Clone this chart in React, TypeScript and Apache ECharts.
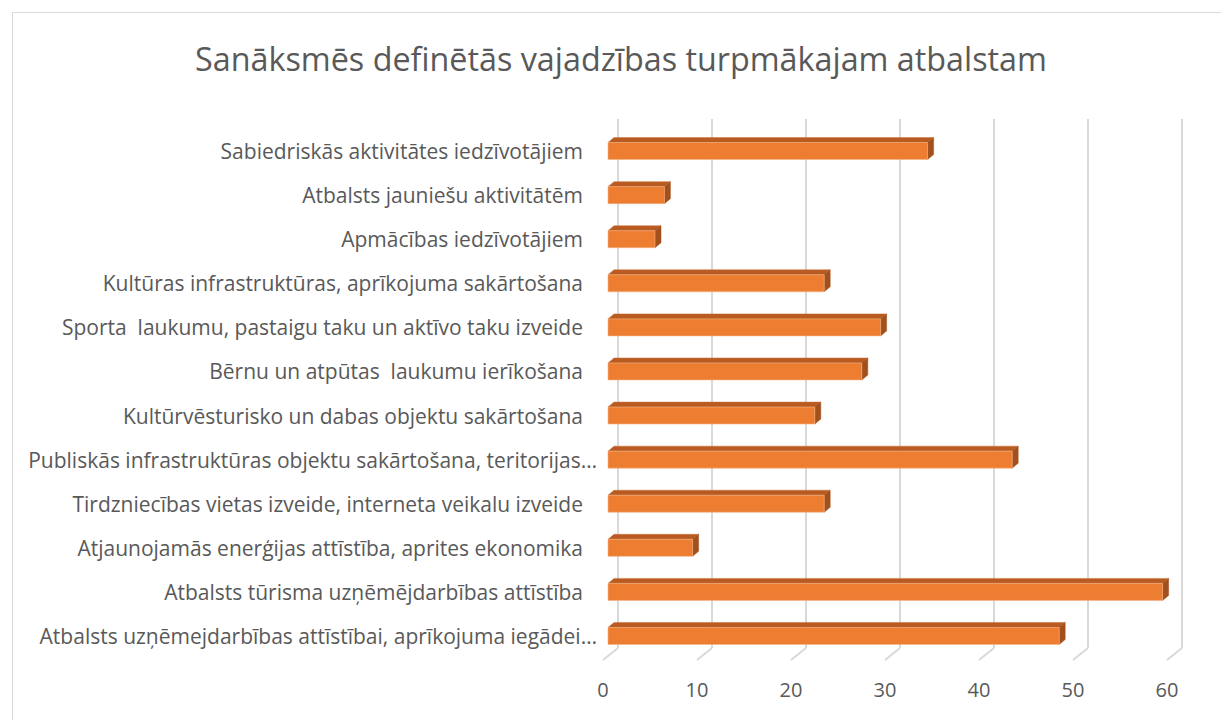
import React, { useEffect, useRef } from "react";
import * as echarts from "echarts";

const TITLE = "Sanāksmēs definētās vajadzības turpmākajam atbalstam";

const CATEGORIES = [
  "Sabiedriskās aktivitātes iedzīvotājiem",
  "Atbalsts jauniešu aktivitātēm",
  "Apmācības iedzīvotājiem",
  "Kultūras infrastruktūras, aprīkojuma sakārtošana",
  "Sporta  laukumu, pastaigu taku un aktīvo taku izveide",
  "Bērnu un atpūtas  laukumu ierīkošana",
  "Kultūrvēsturisko un dabas objektu sakārtošana",
  "Publiskās infrastruktūras objektu sakārtošana, teritorijas…",
  "Tirdzniecības vietas izveide, interneta veikalu izveide",
  "Atjaunojamās enerģijas attīstība, aprites ekonomika",
  "Atbalsts tūrisma uzņēmējdarbības attīstība",
  "Atbalsts uzņēmejdarbības attīstībai, aprīkojuma iegādei…",
];

const VALUES = [34, 6, 5, 23, 29, 27, 22, 43, 23, 9, 59, 48];

const TICKS = [0, 10, 20, 30, 40, 50, 60];

const FONT = "'Open Sans', 'Noto Sans', sans-serif";
const TEXT_COLOR = "#595959";

export default function App() {
  const ref = useRef<HTMLDivElement>(null);

  useEffect(() => {
    if (!ref.current) return;
    const chart = echarts.init(ref.current, null, { renderer: "svg" });

    const barData = VALUES.map((v, i) => [v, i]);
    const gridData = TICKS.map((t) => [t, 0]);
    const catItems = CATEGORIES.map((c) =>
      c.endsWith("…")
        ? { value: c, textStyle: { padding: [0, -14, 0, 0] } }
        : c
    );

    chart.setOption({
      animation: false,
      backgroundColor: "#ffffff",
      textStyle: { fontFamily: FONT },
      graphic: [
        {
          type: "rect",
          shape: { x: 12.5, y: 12.5, width: 1230, height: 730 },
          style: { fill: "none", stroke: "#d9d9d9", lineWidth: 1 },
          silent: true,
        },
        {
          type: "text",
          x: 621,
          y: 58,
          style: {
            text: TITLE,
            fontFamily: FONT,
            fontSize: 32.3,
            fill: TEXT_COLOR,
            textAlign: "center",
            textVerticalAlign: "middle",
          },
        },
      ],
      grid: {
        left: 603,
        width: 564,
        top: 129,
        height: 529,
        containLabel: false,
      },
      xAxis: {
        type: "value",
        min: 0,
        max: 60,
        interval: 10,
        axisLine: { show: false },
        axisTick: { show: false },
        splitLine: { show: false },
        axisLabel: {
          color: TEXT_COLOR,
          fontSize: 20,
          fontFamily: FONT,
          margin: 21,
        },
      },
      yAxis: {
        type: "category",
        inverse: true,
        data: catItems,
        axisLine: { show: false },
        axisTick: { show: false },
        splitLine: { show: false },
        axisLabel: {
          color: TEXT_COLOR,
          fontSize: 21,
          fontFamily: FONT,
          margin: 20,
        },
      },
      series: [
        {
          type: "custom",
          z: 1,
          silent: true,
          clip: false,
          data: gridData,
          encode: { x: 0, y: 1 },
          renderItem: (params: any, api: any) => {
            const p = api.coord([api.value(0), 0]);
            const cs = params.coordSys;
            const bx = p[0] + 15;
            const topY = cs.y - 10;
            const floorY = cs.y + cs.height - 10;
            return {
              type: "group",
              children: [
                {
                  type: "line",
                  shape: { x1: bx, y1: topY, x2: bx, y2: floorY },
                  style: { stroke: "#d9d9d9", lineWidth: 2 },
                },
                {
                  type: "line",
                  shape: { x1: bx, y1: floorY, x2: bx - 15, y2: floorY + 12 },
                  style: { stroke: "#d9d9d9", lineWidth: 2 },
                },
              ],
            };
          },
        },
        {
          type: "custom",
          z: 2,
          clip: false,
          data: barData,
          encode: { x: 0, y: 1 },
          renderItem: (params: any, api: any) => {
            const cat = api.value(1);
            const s = api.coord([0, cat]);
            const e = api.coord([api.value(0), cat]);
            const h = 17;
            const dx = 6;
            const dy = -5;
            const x0 = s[0] + 5;
            const x1 = e[0] + 5;
            const y0 = s[1] - h / 2;
            const y1 = s[1] + h / 2;
            return {
              type: "group",
              children: [
                {
                  type: "polygon",
                  shape: {
                    points: [
                      [x0, y0],
                      [x1, y0],
                      [x1 + dx, y0 + dy],
                      [x0 + dx, y0 + dy],
                    ],
                  },
                  style: { fill: "#b95b21", stroke: "#c8723c", lineWidth: 0.5 },
                },
                {
                  type: "polygon",
                  shape: {
                    points: [
                      [x1, y0],
                      [x1 + dx, y0 + dy],
                      [x1 + dx, y1 + dy],
                      [x1, y1],
                    ],
                  },
                  style: { fill: "#a2501c", stroke: "#a2501c", lineWidth: 0.5 },
                },
                {
                  type: "rect",
                  shape: { x: x0, y: y0, width: x1 - x0, height: h },
                  style: { fill: "#ed7d31", stroke: "#f4b183", lineWidth: 0.6 },
                },
              ],
            };
          },
        },
      ],
    });

    return () => {
      chart.dispose();
    };
  }, []);

  return (
    <div
      ref={ref}
      style={{ position: "fixed", left: 0, top: 0, width: 1221, height: 720 }}
    />
  );
}
